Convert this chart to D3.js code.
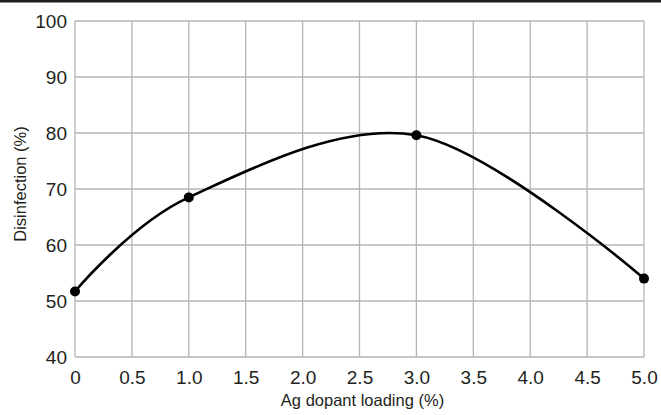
<!DOCTYPE html>
<html>
<head>
<meta charset="utf-8">
<script src="https://cdn.jsdelivr.net/npm/d3@7"></script>
<style>
  html, body { margin: 0; padding: 0; background: #fff; }
  svg { display: block; font-family: "Liberation Sans", Arial, Helvetica, sans-serif; }
</style>
</head>
<body>
<svg id="chart"></svg>
<script>
// data
const loading = [0, 1.0, 3.0, 5.0];
const disinfection = [51.7, 68.5, 79.6, 54.0];
const xTicks = [0, 0.5, 1.0, 1.5, 2.0, 2.5, 3.0, 3.5, 4.0, 4.5, 5.0];
const xTickLabels = ['0', '0.5', '1.0', '1.5', '2.0', '2.5', '3.0', '3.5', '4.0', '4.5', '5.0'];
const yTicks = [40, 50, 60, 70, 80, 90, 100];

const W = 661, H = 415;
const margin = {top: 21, right: 17, bottom: 58, left: 75},
    width = W - margin.left - margin.right,
    height = H - margin.top - margin.bottom;

const svg = d3.select('#chart')
    .attr('width', W)
    .attr('height', H);

// dark strip along the top edge
svg.append('rect')
    .attr('x', 0).attr('y', 0)
    .attr('width', W).attr('height', 2.5)
    .attr('fill', '#231f20');

const g = svg.append('g')
    .attr('transform', 'translate(' + margin.left + ',' + margin.top + ')');

const x = d3.scaleLinear().domain([0, 5]).range([0, width]);
const y = d3.scaleLinear().domain([40, 100]).range([height, 0]);

// grid
g.selectAll('.vgrid')
    .data(xTicks)
    .enter()
    .append('line')
    .attr('x1', d => x(d)).attr('x2', d => x(d))
    .attr('y1', 0).attr('y2', height)
    .attr('stroke', '#b5b5b5')
    .attr('stroke-width', 1.3);
g.selectAll('.hgrid')
    .data(yTicks)
    .enter()
    .append('line')
    .attr('x1', 0).attr('x2', width)
    .attr('y1', d => y(d)).attr('y2', d => y(d))
    .attr('stroke', '#b5b5b5')
    .attr('stroke-width', 1.3);

// axes (labels only, lines come from the grid)
const xAxis = g.append('g')
    .attr('transform', 'translate(0,' + height + ')')
    .call(d3.axisBottom(x).tickValues(xTicks).tickFormat((d, i) => xTickLabels[i]).tickSize(0).tickPadding(14));
const yAxis = g.append('g')
    .call(d3.axisLeft(y).tickValues(yTicks).tickSize(0).tickPadding(8));
[xAxis, yAxis].forEach(a => {
    a.attr('font-size', 19).attr('font-family', '"Liberation Sans", Arial, sans-serif');
    a.select('.domain').remove();
    a.selectAll('text').attr('fill', '#231f20');
});

// axis titles
svg.append('text')
    .attr('x', margin.left + width / 2 + 3)
    .attr('y', 406)
    .attr('text-anchor', 'middle')
    .attr('fill', '#231f20')
    .attr('font-size', 16.5)
    .text('Ag dopant loading (%)');
svg.append('text')
    .attr('transform', 'translate(26,' + (margin.top + height / 2 - 5) + ')rotate(-90)')
    .attr('text-anchor', 'middle')
    .attr('fill', '#231f20')
    .attr('font-size', 16.5)
    .text('Disinfection (%)');

// smooth curve
const pts = loading.map((d, i) => [d, disinfection[i]]);
g.append('path')
    .datum(pts)
    .attr('fill', 'none')
    .attr('stroke', '#000')
    .attr('stroke-width', 2.6)
    .attr('d', d3.line()
        .x(d => x(d[0]))
        .y(d => y(d[1]))
        .curve(d3.curveCatmullRom.alpha(0)));

// markers
g.selectAll('.dot')
    .data(pts)
    .enter()
    .append('circle')
    .attr('cx', d => x(d[0]))
    .attr('cy', d => y(d[1]))
    .attr('r', 5)
    .attr('fill', '#000');
</script>
</body>
</html>
